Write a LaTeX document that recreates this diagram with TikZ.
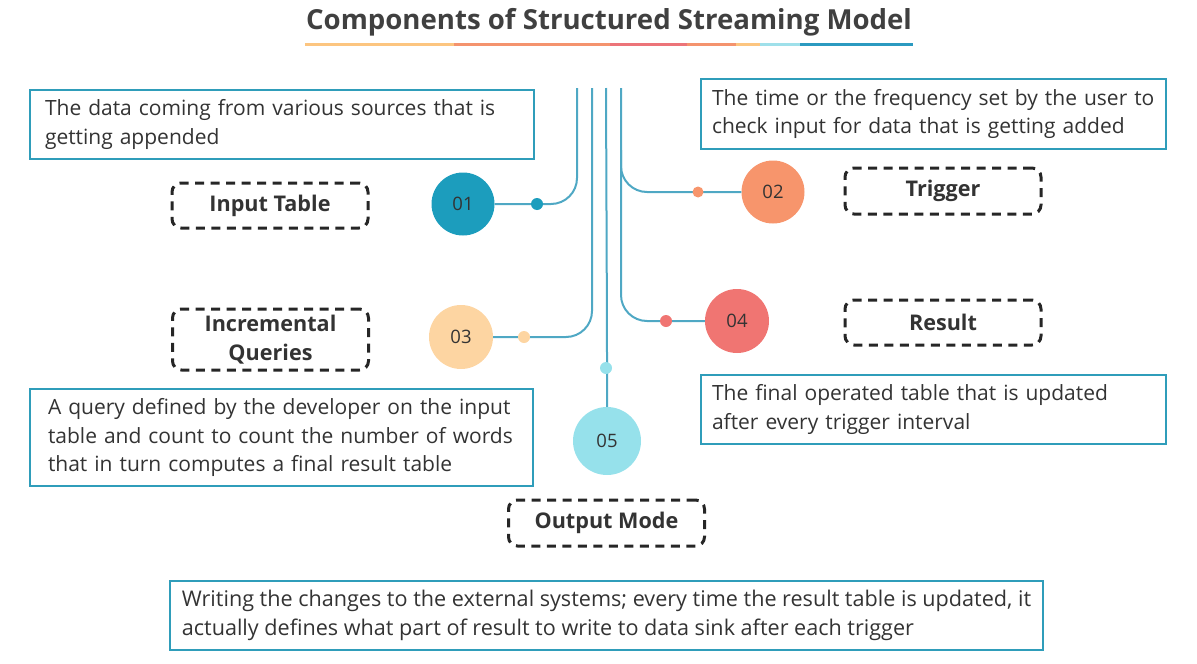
\documentclass[tikz,border=0pt]{standalone}
\usepackage{fontspec}
\setmainfont{Open Sans}
\definecolor{linec}{HTML}{4FA8C4}
\definecolor{boxc}{HTML}{2F9DBA}
\definecolor{txt}{HTML}{333333}
\definecolor{cA}{HTML}{1C9DBD}
\definecolor{cB}{HTML}{F7956C}
\definecolor{cC}{HTML}{FDD5A2}
\definecolor{cD}{HTML}{F07572}
\definecolor{cE}{HTML}{96E1EB}
\definecolor{uA}{HTML}{FCC580}
\definecolor{uB}{HTML}{F4936E}
\definecolor{uC}{HTML}{EC7479}
\definecolor{uD}{HTML}{9FE0EA}
\definecolor{uE}{HTML}{2B9AC0}
\begin{document}
\begin{tikzpicture}[x=1pt,y=-1pt,
  textbox/.style={draw=boxc, line width=2.5pt, text=txt, align=left, inner ysep=0pt,
    font=\fontsize{21}{28.8}\selectfont},
  dashbox/.style={draw=black!85, line width=3pt, rounded corners=9pt, dash pattern=on 9pt off 6.5pt,
    minimum width=196pt, text=txt, align=center, font=\fontsize{21.6}{28.5}\selectfont\bfseries},
  numc/.style={circle, inner sep=0pt, text=txt, font=\fontsize{18.5}{20}\selectfont},
  dotc/.style={circle, inner sep=0pt, minimum size=12pt},
  conn/.style={draw=linec, line width=2pt, rounded corners=26pt},
]
\useasboundingbox (0,0) rectangle (1197,664);
% title
\node[text=black!75, font=\fontsize{27.6}{30}\selectfont\bfseries] (title) at (609,22) {Components of Structured Streaming Model};
\coordinate (u0) at (305,44);
\coordinate (u1) at (454,44);
\coordinate (u2) at (610,44);
\coordinate (u3) at (687,44);
\coordinate (u4) at (736,44);
\coordinate (u5) at (760,44);
\coordinate (u6) at (800,44);
\coordinate (u7) at (913,44);
\draw[uA, line width=3pt] (u0) -- (u1);
\draw[uB, line width=3pt] (u1) -- (u2);
\draw[uC, line width=3pt] (u2) -- (u3);
\draw[uB, line width=3pt] (u3) -- (u4);
\draw[uA, line width=3pt] (u4) -- (u5);
\draw[uD, line width=3pt] (u5) -- (u6);
\draw[uE, line width=3pt] (u6) -- (u7);

% text boxes
\node[textbox, minimum width=504pt, minimum height=69pt, inner xsep=15pt, text width=474pt] (b1) at (282,124.5)
  {The data coming from various sources that is\\getting appended};
\node[textbox, minimum width=465pt, minimum height=70pt, inner xsep=11pt, text width=443pt] (b2) at (933.5,114)
  {The time or the frequency set by the user to\\check input for data that is getting added};
\node[textbox, minimum width=503pt, minimum height=97pt, inner xsep=18pt, text width=467pt] (b3) at (281.5,437.5)
  {A query defined by the developer on the input\\table and count to count the number of words\\that in turn computes a final result table};
\node[textbox, minimum width=465pt, minimum height=69pt, inner xsep=11pt, text width=443pt] (b4) at (933.5,409.5)
  {The final operated table that is updated\\after every trigger interval};
\node[textbox, minimum width=873pt, minimum height=69pt, inner xsep=4pt, font=\fontsize{21.6}{29}\selectfont] (b5) at (606.5,615.5)
  {Writing the changes to the external systems; every time the result table is updated, it\\actually defines what part of result to write to data sink after each trigger};

% dashed labels
\node[dashbox, minimum height=45pt] (l1) at (270,205.5) {Input Table};
\node[dashbox, minimum height=46pt] (l2) at (943,191) {Trigger};
\node[dashbox, minimum height=61pt] (l3) at (270.5,339.5) {Incremental\\Queries};
\node[dashbox, minimum height=45pt] (l4) at (943,322.5) {Result};
\node[dashbox, minimum height=46pt] (l5) at (606.5,523) {Output Mode};

% circles
\node[numc, fill=cA, minimum size=63pt] (c1) at (463,204) {01};
\node[numc, fill=cB, minimum size=63pt] (c2) at (773,192) {02};
\node[numc, fill=cC, minimum size=64pt] (c3) at (461,337) {03};
\node[numc, fill=cD, minimum size=64pt] (c4) at (737,321) {04};
\node[numc, fill=cE, minimum size=68pt] (c5) at (607,441) {05};

% line tops
\coordinate (t1) at (577,88);
\coordinate (t2) at (592,88);
\coordinate (t3) at (606,88);
\coordinate (t4) at (621,88);
\coordinate (t4b) at (621,150);

\draw[conn] (t1) -- (577,204) -- (c1.east);
\draw[conn] (t2) -- (592,337) -- (c3.east);
\draw[conn] (t3) -- (c3.east -| c5.north) -- (c5.north);
\draw[conn] (t4) -- (621,321) -- (c4.west);
\draw[conn] (t4b) -- (621,192) -- (c2.west);

% dots
\node[dotc, fill=cA] (d1) at (537,204) {};
\node[dotc, fill=cB, minimum size=11pt] (d2) at (698,192) {};
\node[dotc, fill=cC] (d3) at (524,337) {};
\node[dotc, fill=cD] (d4) at (666,321) {};
\node[dotc, fill=cE] (d5) at (606,368) {};
\end{tikzpicture}
\end{document}
